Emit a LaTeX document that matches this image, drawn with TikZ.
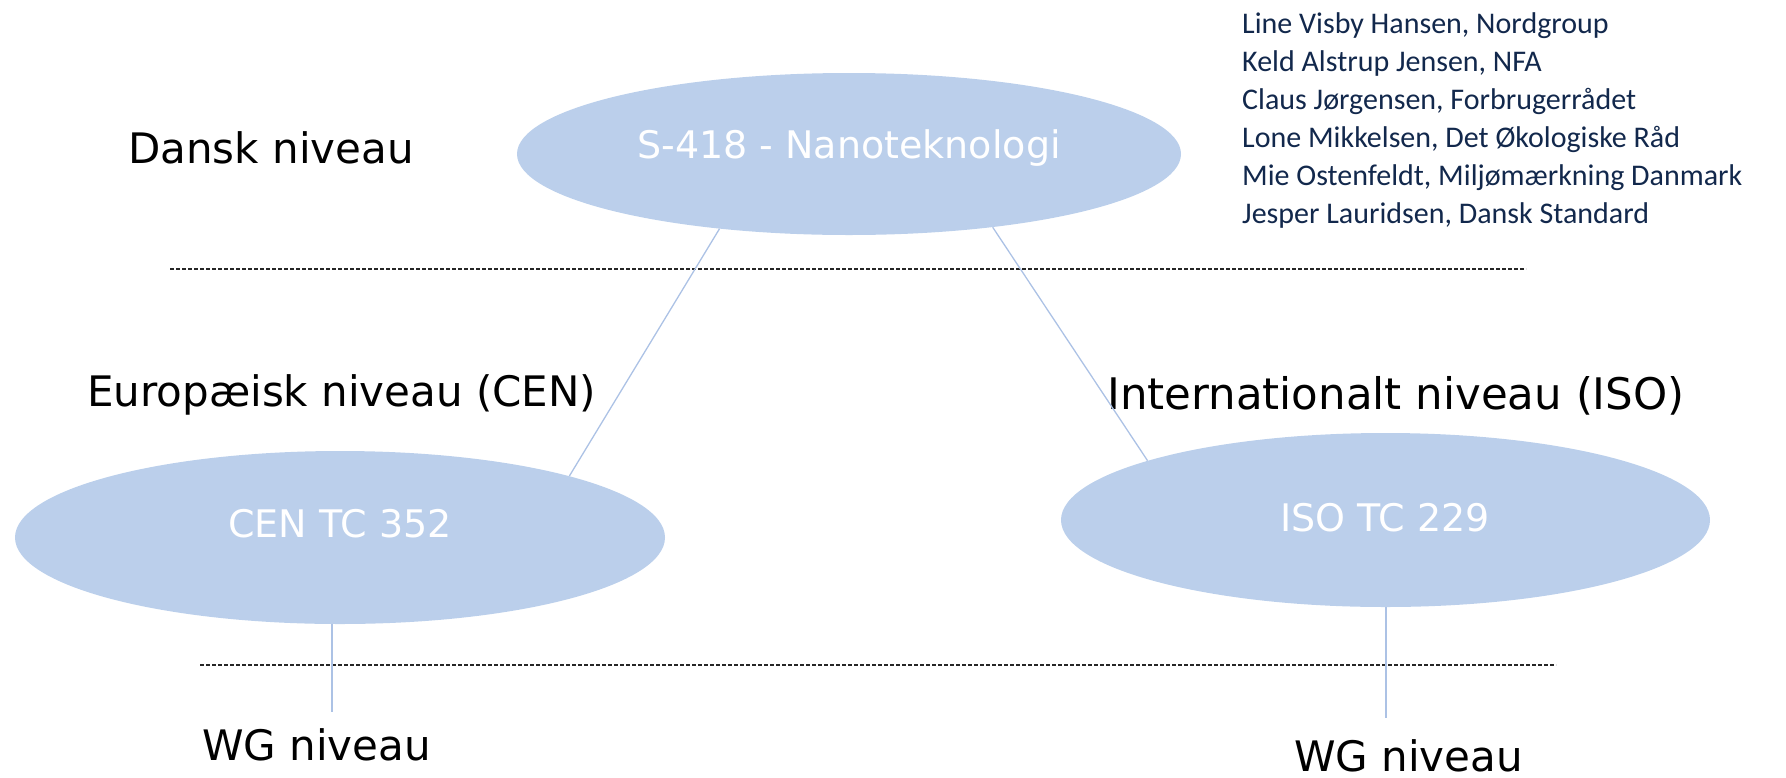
\documentclass[tikz,border=0pt]{standalone}
\usepackage{fontspec}
\setmainfont{DejaVu Sans}
\newfontfamily\namefont{Carlito}
\usetikzlibrary{shapes.geometric,calc}
\definecolor{ellfill}{RGB}{187,207,235}
\definecolor{connblue}{RGB}{172,194,229}
\definecolor{navy}{RGB}{18,40,76}
\begin{document}
\begin{tikzpicture}[x=1pt,y=-1pt,
  ell/.style={ellipse, fill=ellfill, draw=none, inner sep=0pt},
  etxt/.style={text=white, font=\fontsize{38}{46}\selectfont, inner sep=0pt, anchor=base},
  lbl/.style={font=\fontsize{42}{50}\selectfont, inner sep=0pt, anchor=base west},
  member/.style={font=\namefont\fontsize{30}{36}\selectfont, text=navy, inner sep=0pt, anchor=base west},
  link/.style={draw=connblue, line width=1.3pt},
  sepline/.style={draw=black!85, line width=1.3pt, dash pattern=on 4pt off 2pt}]
\useasboundingbox (0,0) rectangle (1786,777);

% ellipses
\node[ell, minimum width=664pt, minimum height=162pt] (top) at (849,154) {};
\node[etxt] (toptext) at (849,158) {S-418 - Nanoteknologi};
\node[ell, minimum width=650pt, minimum height=173pt] (cen) at (340,537.5) {};
\node[etxt] (centext) at (340,537) {CEN TC 352};
\node[ell, minimum width=649pt, minimum height=174pt] (iso) at (1385.5,520) {};
\node[etxt] (isotext) at (1385,531) {ISO TC 229};

% level labels
\node[lbl] (dansk) at (128,163) {Dansk niveau};
\node[lbl] (europ) at (87,406) {Europæisk niveau (CEN)};
\node[lbl, font=\fontsize{43.5}{50}\selectfont] (intl) at (1107,409) {Internationalt niveau (ISO)};
\node[lbl] (wgl) at (202,760) {WG niveau};
\node[lbl] (wgr) at (1294,771) {WG niveau};

% dashed separators
\coordinate (d1a) at (170,269);
\coordinate (d1b) at (1526,269);
\coordinate (d2a) at (200,665);
\coordinate (d2b) at (1556,665);
\draw[sepline] (d1a) -- (d1b);
\draw[sepline] (d2a) -- (d2b);

% connectors
\draw[link] (top.210.6) -- (cen.15.3);
\draw[link] (top.333) -- (iso.166.2);
\coordinate (wgLend) at (332,712);
\coordinate (wgRend) at (1386,718);
\draw[link] (cen.south -| wgLend) -- (wgLend);
\draw[link] (iso.south -| wgRend) -- (wgRend);

% members
\node[member] (m1) at (1242,33) {Line Visby Hansen, Nordgroup};
\node[member] (m2) at (1242,71) {Keld Alstrup Jensen, NFA};
\node[member] (m3) at (1242,109) {Claus Jørgensen, Forbrugerrådet};
\node[member] (m4) at (1242,147) {Lone Mikkelsen, Det Økologiske Råd};
\node[member] (m5) at (1242,185) {Mie Ostenfeldt, Miljømærkning Danmark};
\node[member] (m6) at (1242,223) {Jesper Lauridsen, Dansk Standard};
\end{tikzpicture}
\end{document}
